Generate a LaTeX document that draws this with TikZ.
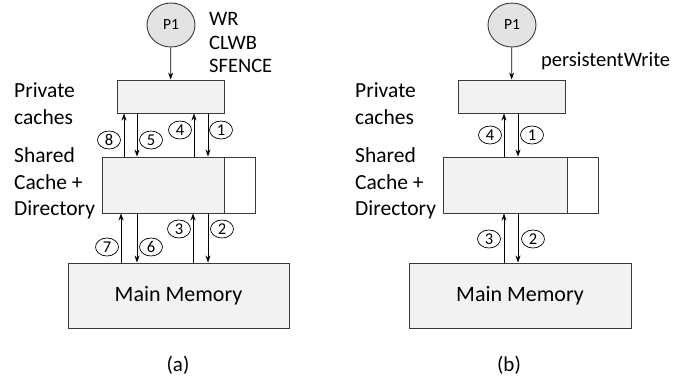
\documentclass[tikz,border=0pt]{standalone}
\usepackage{fontspec}
\setmainfont{Carlito}
\usetikzlibrary{
    arrows.meta,
    shapes.geometric,
    positioning
}
\definecolor{boxgray}{HTML}{F2F2F2}
\definecolor{cpugray}{HTML}{E3E3E3}
\definecolor{linegray}{HTML}{3A3A3A}
\tikzset{unit/.style={draw=linegray, line width=0.9pt, fill=boxgray, inner sep=0pt}}
\tikzset{cpu/.style={ellipse, draw=linegray, line width=0.9pt, fill=cpugray, minimum width=48pt, minimum height=44pt, inner sep=0pt, font=\fontsize{15.5}{18}\selectfont}}
\tikzset{numc/.style={ellipse, draw=black, line width=0.7pt, minimum width=23pt, minimum height=18pt, inner sep=0pt, font=\fontsize{16.5}{18}\selectfont}}
\tikzset{lbl/.style={anchor=west, align=left, inner sep=0pt, font=\fontsize{21.5}{26.5}\selectfont}}
\tikzset{msg/.style={->, >={Stealth[length=7pt, width=5pt]}, line width=0.8pt}}

\begin{document}
\begin{tikzpicture}[x=1pt, y=-1pt]
                        \useasboundingbox (0, 0) rectangle (694, 381);
                        % (a) flush with CLWB and SFENCE
                        \begin{scope}[shift={(0, 0)}]
                            \node[cpu] (p1a) at (171, 25) {P1};
                            \node[lbl, font=\fontsize{20.5}{23.5}\selectfont] (opsa) at (209, 42.5) {WR\\CLWB\\SFENCE};

                            \node[unit, minimum width=107pt, minimum height=33pt] (priva) at (170.5, 96.5) {};
                            \node[unit, minimum width=122pt, minimum height=56pt] (shareda) at (163, 185) {};
                            \node[unit, fill=white, minimum width=31pt, minimum height=56pt, anchor=west] (dira) at (shareda.east) {};
                            \node[unit, minimum width=221pt, minimum height=65pt, font=\fontsize{22}{26}\selectfont] (mema) at (178.5, 295.5) {Main Memory};

                            \node[lbl] (privlbla) at (14, 103.5) {Private\\caches};
                            \node[lbl] (sharedlbla) at (14, 183.5) {Shared\\Cache +\\Directory};

                            \draw[msg] (p1a) -- (priva);

                            \draw[msg] (shareda.north -| 124, 0) -- (priva.south -| 124, 0);
                            \draw[msg] (priva.south -| 137, 0) -- (shareda.north -| 137, 0);
                            \draw[msg] (shareda.north -| 194, 0) -- (priva.south -| 194, 0);
                            \draw[msg] (priva.south -| 208, 0) -- (shareda.north -| 208, 0);

                            \draw[msg] (mema.north -| 121, 0) -- (shareda.south -| 121, 0);
                            \draw[msg] (shareda.south -| 137, 0) -- (mema.north -| 137, 0);
                            \draw[msg] (mema.north -| 193, 0) -- (shareda.south -| 193, 0);
                            \draw[msg] (shareda.south -| 208, 0) -- (mema.north -| 208, 0);

                            \node[numc] (n1a) at (221, 130) {1};
                            \node[numc] (n2a) at (222, 229) {2};
                            \node[numc] (n3a) at (179, 229) {3};
                            \node[numc] (n4a) at (180, 130) {4};
                            \node[numc] (n5a) at (151, 140) {5};
                            \node[numc] (n6a) at (151, 247) {6};
                            \node[numc] (n7a) at (107, 247) {7};
                            \node[numc] (n8a) at (109, 140) {8};

                            \node[font=\fontsize{21}{24}\selectfont] (capa) at (178, 365) {(a)};
                        \end{scope}
                        % (b) single persistent write
                        \begin{scope}[shift={(341, 0)}]
                            \node[cpu] (p1b) at (171, 25) {P1};
                            \node[lbl, font=\fontsize{20.5}{23.5}\selectfont] (opsb) at (200, 61) {persistentWrite};

                            \node[unit, minimum width=107pt, minimum height=33pt] (privb) at (170.5, 96.5) {};
                            \node[unit, minimum width=124pt, minimum height=56pt] (sharedb) at (164, 185) {};
                            \node[unit, fill=white, minimum width=31pt, minimum height=56pt, anchor=west] (dirb) at (sharedb.east) {};
                            \node[unit, minimum width=222pt, minimum height=65pt, font=\fontsize{22}{26}\selectfont] (memb) at (179, 295.5) {Main Memory};

                            \node[lbl] (privlblb) at (14, 103.5) {Private\\caches};
                            \node[lbl] (sharedlblb) at (14, 183.5) {Shared\\Cache +\\Directory};

                            \draw[msg] (p1b) -- (privb);

                            \draw[msg] (sharedb.north -| 163, 0) -- (privb.south -| 163, 0);
                            \draw[msg] (privb.south -| 177, 0) -- (sharedb.north -| 177, 0);
                            \draw[msg] (memb.north -| 163, 0) -- (sharedb.south -| 163, 0);
                            \draw[msg] (sharedb.south -| 177, 0) -- (memb.north -| 177, 0);

                            \node[numc] (n1b) at (191, 135) {1};
                            \node[numc] (n2b) at (192, 239) {2};
                            \node[numc] (n3b) at (148, 239) {3};
                            \node[numc] (n4b) at (149, 135) {4};

                            \node[font=\fontsize{21}{24}\selectfont] (capb) at (168, 365) {(b)};
                        \end{scope}
                    \end{tikzpicture}
\end{document}
